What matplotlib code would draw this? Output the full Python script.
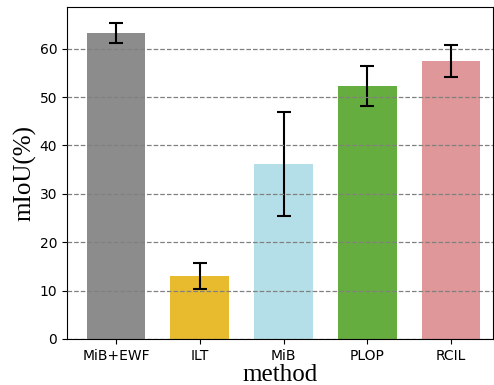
import matplotlib
matplotlib.use("Agg")
import matplotlib.pyplot as plt
import numpy as np

methods = ["MiB+EWF", "ILT", "MiB", "PLOP", "RCIL"]
miou = [63.2, 13.0, 36.2, 52.3, 57.4]
errors = [2.1, 2.7, 10.8, 4.2, 3.3]
colors = ["#8c8c8c", "#e8bb2f", "#b5dfe8", "#66ad3f", "#e09799"]

fig = plt.figure(figsize=(4.94, 3.85), dpi=100)
ax = fig.add_axes([0.1356, 0.1195, 0.8624, 0.8623])
x = np.arange(len(methods))
ax.bar(x, miou, width=0.7, color=colors, yerr=errors, capsize=5,
       error_kw=dict(elinewidth=1.5, capthick=1.5, ecolor="black"))
ax.set_axisbelow(False)
ax.yaxis.grid(True, linestyle="--", color="gray", linewidth=0.9)
ax.set_xticks(x)
ax.set_xticklabels(methods)
ax.set_xlim(-0.585, 4.5)
ax.set_ylim(0, 68.6)
ax.set_yticks([0, 10, 20, 30, 40, 50, 60])
ax.set_xlabel("method", fontsize=18, family="Liberation Serif", labelpad=1)
ax.set_ylabel("mIoU(%)", fontsize=18, family="Liberation Serif", labelpad=2.5)
ax.tick_params(labelsize=10)
fig.savefig("out.png", dpi=100)
